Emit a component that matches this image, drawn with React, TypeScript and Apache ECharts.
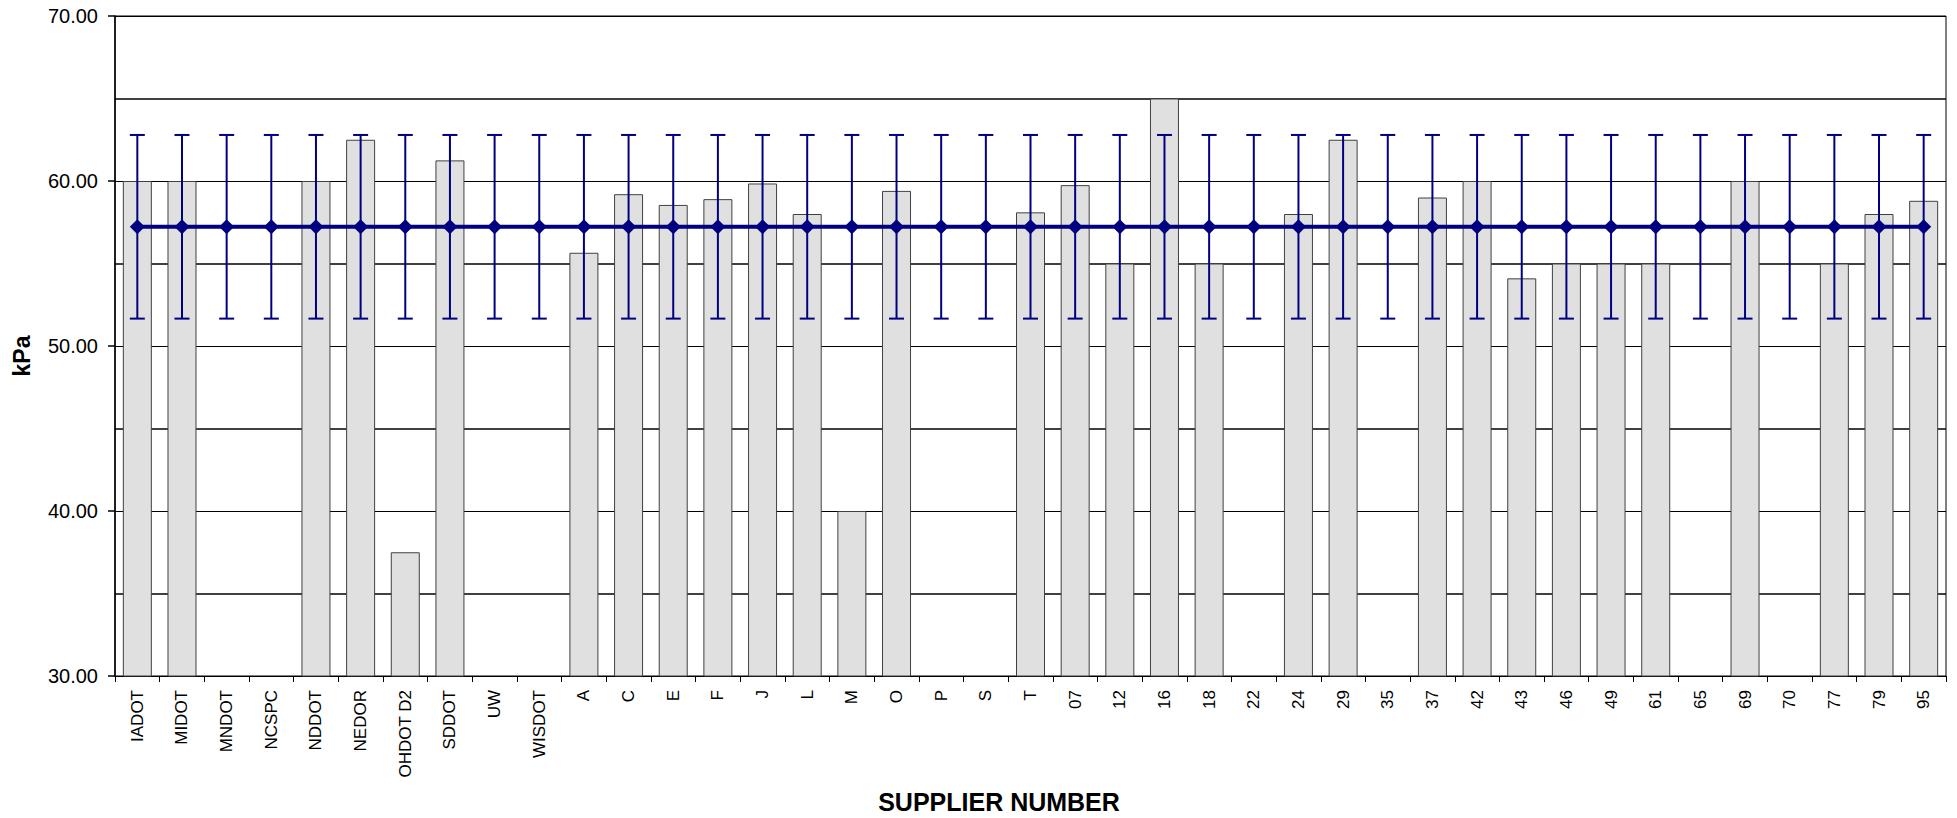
import React, { useEffect, useRef } from "react";
import * as echarts from "echarts";

const categories = [
  "IADOT", "MIDOT", "MNDOT", "NCSPC", "NDDOT", "NEDOR", "OHDOT D2", "SDDOT", "UW", "WISDOT",
  "A", "C", "E", "F", "J", "L", "M", "O", "P", "S", "T",
  "07", "12", "16", "18", "22", "24", "29", "35", "37", "42", "43", "46", "49", "61", "65", "69", "70", "77", "79", "95",
];

const supplierValues: (number | null)[] = [
  60, 60, null, null, 60, 62.5, 37.5, 61.25, null, null,
  55.65, 59.2, 58.55, 58.9, 59.85, 58.0, 40, 59.4, null, null, 58.1,
  59.75, 55, 65, 55, null, 58.0, 62.5, null, 59.0, 60, 54.1, 55, 55, 55, null, 60, null, 55, 58.0, 58.8,
];

const MEAN = 57.22;
const UPPER = 62.79;
const LOWER = 51.66;

const meanValues = categories.map(() => MEAN);
const upperValues = categories.map(() => UPPER);
const lowerValues = categories.map(() => LOWER);

const yTicks = [30, 40, 50, 60, 70];

const FONT = "Liberation Sans, Arial, sans-serif";
const NAVY = "#000080";

export default function App() {
  const ref = useRef<HTMLDivElement>(null);
  useEffect(() => {
    if (!ref.current) return;
    const chart = echarts.init(ref.current, undefined, { renderer: "svg" });
    chart.setOption({
      animation: false,
      backgroundColor: "#fff",
      textStyle: { fontFamily: FONT },
      grid: {
        left: 115,
        top: 16,
        right: 11,
        bottom: 142,
        show: true,
        borderColor: "#000",
        borderWidth: 1,
        backgroundColor: "transparent",
      },
      xAxis: {
        type: "category",
        data: categories,
        boundaryGap: true,
        axisLine: { show: true, lineStyle: { color: "#000", width: 1 } },
        axisTick: { show: true, alignWithLabel: false, length: 6, lineStyle: { color: "#000" } },
        axisLabel: {
          interval: 0,
          rotate: 90,
          fontSize: 17,
          color: "#000",
          margin: 14,
          fontFamily: FONT,
        },
        splitLine: { show: false },
      },
      yAxis: {
        type: "value",
        min: yTicks[0],
        max: yTicks[yTicks.length - 1],
        interval: 10,
        axisLine: { show: true, lineStyle: { color: "#000", width: 1.5 } },
        axisTick: { show: true, length: 7, lineStyle: { color: "#000", width: 1.5 } },
        axisLabel: {
          fontSize: 20,
          color: "#000",
          margin: 17,
          fontFamily: FONT,
          formatter: (v: number) => v.toFixed(2),
        },
        splitLine: { show: true, lineStyle: { color: "#000", width: 1 } },
        minorTick: { show: false, splitNumber: 2 },
        minorSplitLine: { show: true, lineStyle: { color: "#000", width: 1.5 } },
      },
      graphic: [
        {
          type: "text",
          x: 22,
          y: 356,
          rotation: Math.PI / 2,
          style: {
            text: "kPa",
            fontSize: 23,
            fontWeight: "bold",
            fontFamily: FONT,
            fill: "#000",
            textAlign: "center",
            textVerticalAlign: "middle",
          },
        },
        {
          type: "text",
          x: 999,
          y: 802,
          style: {
            text: "SUPPLIER NUMBER",
            fontSize: 25,
            fontWeight: "bold",
            fontFamily: FONT,
            fill: "#000",
            textAlign: "center",
            textVerticalAlign: "middle",
          },
        },
      ],
      series: [
        {
          type: "bar",
          data: supplierValues,
          barWidth: 29,
          z: 2,
          itemStyle: { color: "#e0e0e0", borderColor: "#404040", borderWidth: 1 },
        },
        {
          type: "custom",
          z: 3,
          data: categories.map((_, i) => [i, lowerValues[i], upperValues[i]]),
          encode: { x: 0, y: [1, 2] },
          renderItem: (params: any, api: any) => {
            const idx = api.value(0);
            const lo = api.coord([idx, api.value(1)]);
            const hi = api.coord([idx, api.value(2)]);
            const half = 7.5;
            const style = { stroke: NAVY, lineWidth: 2 };
            return {
              type: "group",
              children: [
                { type: "line", shape: { x1: lo[0], y1: lo[1], x2: hi[0], y2: hi[1] }, style },
                { type: "line", shape: { x1: lo[0] - half, y1: lo[1], x2: lo[0] + half, y2: lo[1] }, style },
                { type: "line", shape: { x1: hi[0] - half, y1: hi[1], x2: hi[0] + half, y2: hi[1] }, style },
              ],
            };
          },
        },
        {
          type: "line",
          data: meanValues,
          z: 4,
          symbol: "diamond",
          symbolSize: 15,
          lineStyle: { color: NAVY, width: 4 },
          itemStyle: { color: NAVY },
        },
      ],
    });
    return () => chart.dispose();
  }, []);
  return (
    <div
      ref={ref}
      style={{ position: "fixed", left: 0, top: 0, width: 1957, height: 818, background: "#fff" }}
    />
  );
}
